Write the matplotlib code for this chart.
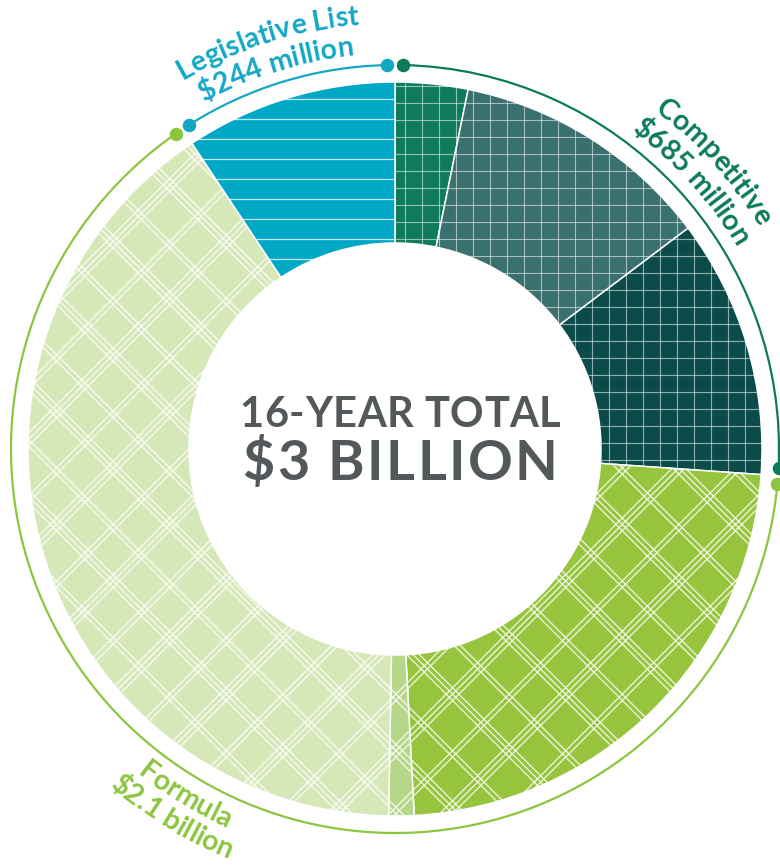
import matplotlib.pyplot as plt
import numpy as np
from matplotlib.collections import LineCollection
from matplotlib.font_manager import FontProperties
from matplotlib.patches import Arc
from matplotlib.textpath import TextToPath

# ---- data ----
group_names = ['Competitive', 'Formula', 'Legislative List']
group_amounts = ['$685 million', '$2.1 billion', '$244 million']
# ring share of each slice (degrees of the ring), clockwise from 12 o'clock
slice_share = [11.5, 41.5, 41.0, 83.0, 4.0, 145.4, 33.6]
slice_group = [0, 0, 0, 1, 1, 1, 2]
center_title = '16-YEAR TOTAL'
center_total = '$3 BILLION'

# ---- styles ----
slice_colors = ['#0f7a5c', '#3a716f', '#0b4c4a', '#96c43c', '#b6d788', '#d6e7b8', '#00a8c6']
slice_pattern = ['grid', 'grid', 'grid', 'plaid', 'plaid', 'plaid', 'lines']
group_colors = ['#0d7a5c', '#8cc63f', '#14a8c6']
label_shift = [1.0, 1.0, -0.6]  # degrees, nudges label off the group middle
text_grey = '#53585b'

W, H = 780, 865
CX, CY = 395, H - 449
R_OUT, R_IN = 367, 206
R_RING = 384
PX = 100 / 72  # pixels per point
LABEL_SIZE = 20.5


def compass_xy(theta, r):
    phi = np.radians(90 - theta)
    return CX + r * np.cos(phi), CY + r * np.sin(phi)


t2p = TextToPath()


def text_width(t, prop):
    return t2p.get_text_width_height_descent(t, prop, ismath=False)[0] * PX


def arc_text(ax, s, theta_mid, r, size, color, inward=False):
    """Lay text along a circle; r is the baseline radius."""
    prop = FontProperties(family='Lato', weight='bold', size=size)
    total = text_width(s, prop)
    sign = -1 if inward else 1
    for i, ch in enumerate(s):
        if ch == ' ':
            continue
        c = text_width(s[:i + 1], prop) - text_width(ch, prop) / 2
        theta = theta_mid + sign * np.degrees((c - total / 2) / r)
        x, y = compass_xy(theta, r)
        phi = 90 - theta
        rot = phi + 90 if inward else phi - 90
        ax.text(x, y, ch, fontproperties=prop, color=color, rotation=rot,
                rotation_mode='anchor', ha='center', va='baseline', zorder=6)


def tracked_text(ax, s, x_mid, y, size, color, track):
    """Straight text with extra letter spacing (px)."""
    prop = FontProperties(family='Lato', weight='bold', size=size)
    total = text_width(s, prop) + track * (len(s) - 1)
    for i, ch in enumerate(s):
        if ch == ' ':
            continue
        c = text_width(s[:i + 1], prop) - text_width(ch, prop) / 2 + track * i
        ax.text(x_mid - total / 2 + c, y, ch, fontproperties=prop, color=color,
                ha='center', va='baseline', zorder=6)


def pattern_segments(kind):
    segs = []
    if kind == 'grid':
        for x in np.arange(-3, W + 20, 17):
            segs.append([(x, 0), (x, H)])
        for y in np.arange(-3, H + 20, 17):
            segs.append([(0, y), (W, y)])
    elif kind == 'lines':
        for y in np.arange((H - 99) % 20, H + 20, 20):
            segs.append([(0, y), (W, y)])
    else:
        s2 = np.sqrt(2)
        offs = np.array([0, 4.5, 9, 40, 44.5]) * s2
        period = 80 * s2
        for base in np.arange(-W - 300, H + W + 300, period):
            for o in offs:
                c = base + o
                segs.append([(-100, -100 + c), (W + 100, W + 100 + c)])
                segs.append([(-100, 100 + c), (W + 100, -(W + 100) + c)])
    return segs


fig = plt.figure(figsize=(W / 100, H / 100), dpi=100)
ax = fig.add_axes([0, 0, 1, 1])

wedges, _ = ax.pie(slice_share, colors=slice_colors, startangle=90, counterclock=False,
                   radius=R_OUT, center=(CX, CY),
                   wedgeprops=dict(width=R_OUT - R_IN, edgecolor='white', linewidth=1.1))

for w, kind in zip(wedges, slice_pattern):
    if kind == 'grid':
        lw, alpha = 0.8, 0.55
    elif kind == 'lines':
        lw, alpha = 0.9, 0.75
    else:
        lw, alpha = 1.0, 0.8
    lc = LineCollection(pattern_segments(kind), colors='white', linewidths=lw, alpha=alpha, zorder=3)
    ax.add_collection(lc)
    lc.set_clip_path(w)

# outer arcs per group with dots at the ends
bounds = np.concatenate([[0], np.cumsum(slice_share)])
inset = 1.2
for g in range(len(group_names)):
    idx = [i for i, sg in enumerate(slice_group) if sg == g]
    a = bounds[idx[0]] + inset
    b = bounds[idx[-1] + 1] - inset
    arc = Arc((CX, CY), 2 * R_RING, 2 * R_RING, theta1=90 - b, theta2=90 - a,
              color=group_colors[g], linewidth=1.6, zorder=4)
    ax.add_patch(arc)
    xs, ys = zip(compass_xy(a, R_RING), compass_xy(b, R_RING))
    ax.scatter(xs, ys, s=95, color=group_colors[g], zorder=5, linewidths=0)

    mid = (bounds[idx[0]] + bounds[idx[-1] + 1]) / 2 + label_shift[g]
    if 90 < mid % 360 < 270:
        arc_text(ax, group_names[g], mid, 415, LABEL_SIZE, group_colors[g], inward=True)
        arc_text(ax, group_amounts[g], mid, 443, LABEL_SIZE, group_colors[g], inward=True)
    else:
        arc_text(ax, group_names[g], mid, 426, LABEL_SIZE, group_colors[g])
        arc_text(ax, group_amounts[g], mid, 396, LABEL_SIZE, group_colors[g])

tracked_text(ax, center_title, 400, H - 427, 30, text_grey, 0.5)
tracked_text(ax, center_total, 400, H - 480, 40, text_grey, 2.5)

ax.set_xlim(0, W)
ax.set_ylim(0, H)
ax.set_aspect('equal')
ax.axis('off')

plt.savefig('out.png', dpi=100)
